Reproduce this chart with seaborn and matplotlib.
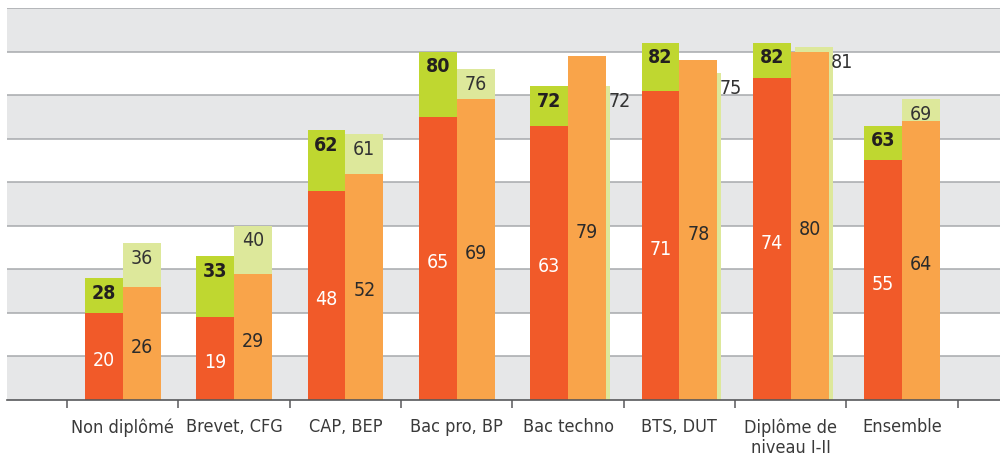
import numpy as np
import pandas as pd
import matplotlib
matplotlib.use("Agg")
import matplotlib.pyplot as plt
from matplotlib import font_manager as fm
from matplotlib.ticker import FixedLocator
import seaborn as sns

# Education levels and the four series (percentages)
categories = ["Non diplômé", "Brevet, CFG", "CAP, BEP", "Bac pro, BP",
              "Bac techno", "BTS, DUT", "Diplôme de\nniveau I-II", "Ensemble"]
red_values = [20, 19, 48, 65, 63, 71, 74, 55]
green_totals = [28, 33, 62, 80, 72, 82, 82, 63]
orange_values = [26, 29, 52, 69, 79, 78, 80, 64]
lightgreen_totals = [36, 40, 61, 76, 72, 75, 81, 69]
# light-green bar sits behind the orange one (label written beside it)
lightgreen_behind = [False, False, False, False, True, True, True, False]

RED = "#f15a29"
GREEN = "#bfd730"
ORANGE = "#f9a44a"
LIGHTGREEN = "#dde89b"
BAND = "#e6e7e8"
GRID = "#a7a9ac"
AXIS = "#58595b"

sns.set_theme(style="white")

# pick a narrow sans-serif face when one is available
_narrow = {"condensed", "semi-condensed", "extra-condensed", "ultra-condensed"}
_cond = [f for f in fm.fontManager.ttflist if str(f.stretch) in _narrow]
_prefs = ["Liberation Sans Narrow", "Noto Sans", "DejaVu Sans", "Open Sans",
          "Roboto", "Lato", "Inter", "Liberation Sans"]
_family = next((p for p in _prefs if any(f.name == p for f in _cond)), None)
if _family is None and _cond:
    _family = _cond[0].name
if _family:
    plt.rcParams["font.family"] = [_family, "DejaVu Sans"]
    plt.rcParams["font.stretch"] = "extra-condensed"
else:
    plt.rcParams["font.family"] = ["DejaVu Sans"]

idx = np.arange(len(categories))
W = 0.34
SHIFT = 0.036

df = pd.DataFrame({
    "pos": idx,
    "red": red_values,
    "green": green_totals,
    "orange": orange_values,
    "lightgreen": lightgreen_totals,
    "behind": lightgreen_behind,
})

fig = plt.figure(figsize=(10, 4.62), dpi=100)
ax = fig.add_axes([0.007, 0.1342, 0.993, 0.8485])

# alternating horizontal bands and grid lines
for lo in range(0, 90, 20):
    ax.axhspan(lo, lo + 10, color=BAND, lw=0, zorder=0)
for y in range(10, 100, 10):
    ax.axhline(y, color=GRID, lw=1.1, zorder=1)

common = dict(native_scale=True, width=W, saturation=1, errorbar=None,
              linewidth=0, ax=ax)

# left stack: green total behind, red share in front
sns.barplot(x=df["pos"] - W / 2, y=df["green"], color=GREEN, zorder=3, **common)
sns.barplot(x=df["pos"] - W / 2, y=df["red"], color=RED, zorder=4, **common)

# right stack: light-green total, orange share in front
front = df[~df["behind"]]
back = df[df["behind"]]
sns.barplot(x=front["pos"] + W / 2, y=front["lightgreen"], color=LIGHTGREEN,
            zorder=3, **common)
sns.barplot(x=back["pos"] + W / 2 + SHIFT, y=back["lightgreen"], color=LIGHTGREEN,
            zorder=3, **common)
sns.barplot(x=df["pos"] + W / 2, y=df["orange"], color=ORANGE, zorder=4, **common)

FS = 14
for _, r in df.iterrows():
    lx, rx = r["pos"] - W / 2, r["pos"] + W / 2
    ax.annotate(f"{r['red']}", (lx, r["red"] / 2), xytext=(0, -3),
                textcoords="offset points", ha="center", va="center",
                color="white", fontsize=FS, zorder=6)
    ax.annotate(f"{r['green']}", (lx, r["green"]), xytext=(0, -4),
                textcoords="offset points", ha="center", va="top",
                color="#231f20", fontsize=FS, fontweight="semibold", zorder=6)
    ax.annotate(f"{r['orange']}", (rx, r["orange"] / 2), xytext=(0, -3),
                textcoords="offset points", ha="center", va="center",
                color="#2b2b2b", fontsize=FS, zorder=6)
    if r["behind"]:
        ax.annotate(f"{r['lightgreen']}", (rx + W / 2 + SHIFT, r["lightgreen"]),
                    xytext=(-1, -4), textcoords="offset points", ha="left",
                    va="top", color="#333333", fontsize=FS, zorder=6)
    else:
        ax.annotate(f"{r['lightgreen']}", (rx, r["lightgreen"]), xytext=(0, -4),
                    textcoords="offset points", ha="center", va="top",
                    color="#333333", fontsize=FS, zorder=6)

ax.set_xlim(-1.04, 7.88)
ax.set_ylim(0, 90)
ax.set_xlabel("")
ax.set_ylabel("")
ax.set_yticks([])
ax.set_xticks(idx)
ax.set_xticklabels(categories)
ax.xaxis.set_minor_locator(FixedLocator(np.append(idx - 0.5, idx[-1] + 0.5)))
ax.tick_params(axis="x", which="major", length=0, pad=13, labelsize=13,
               labelcolor="#3a3a3a")
ax.tick_params(axis="x", which="minor", length=6, width=1.1, color=AXIS,
               direction="out", bottom=True)
for side in ("top", "left", "right"):
    ax.spines[side].set_visible(False)
ax.spines["bottom"].set_color(AXIS)
ax.spines["bottom"].set_linewidth(1.2)
ax.spines["bottom"].set_zorder(7)

fig.savefig("out.png", dpi=100)
